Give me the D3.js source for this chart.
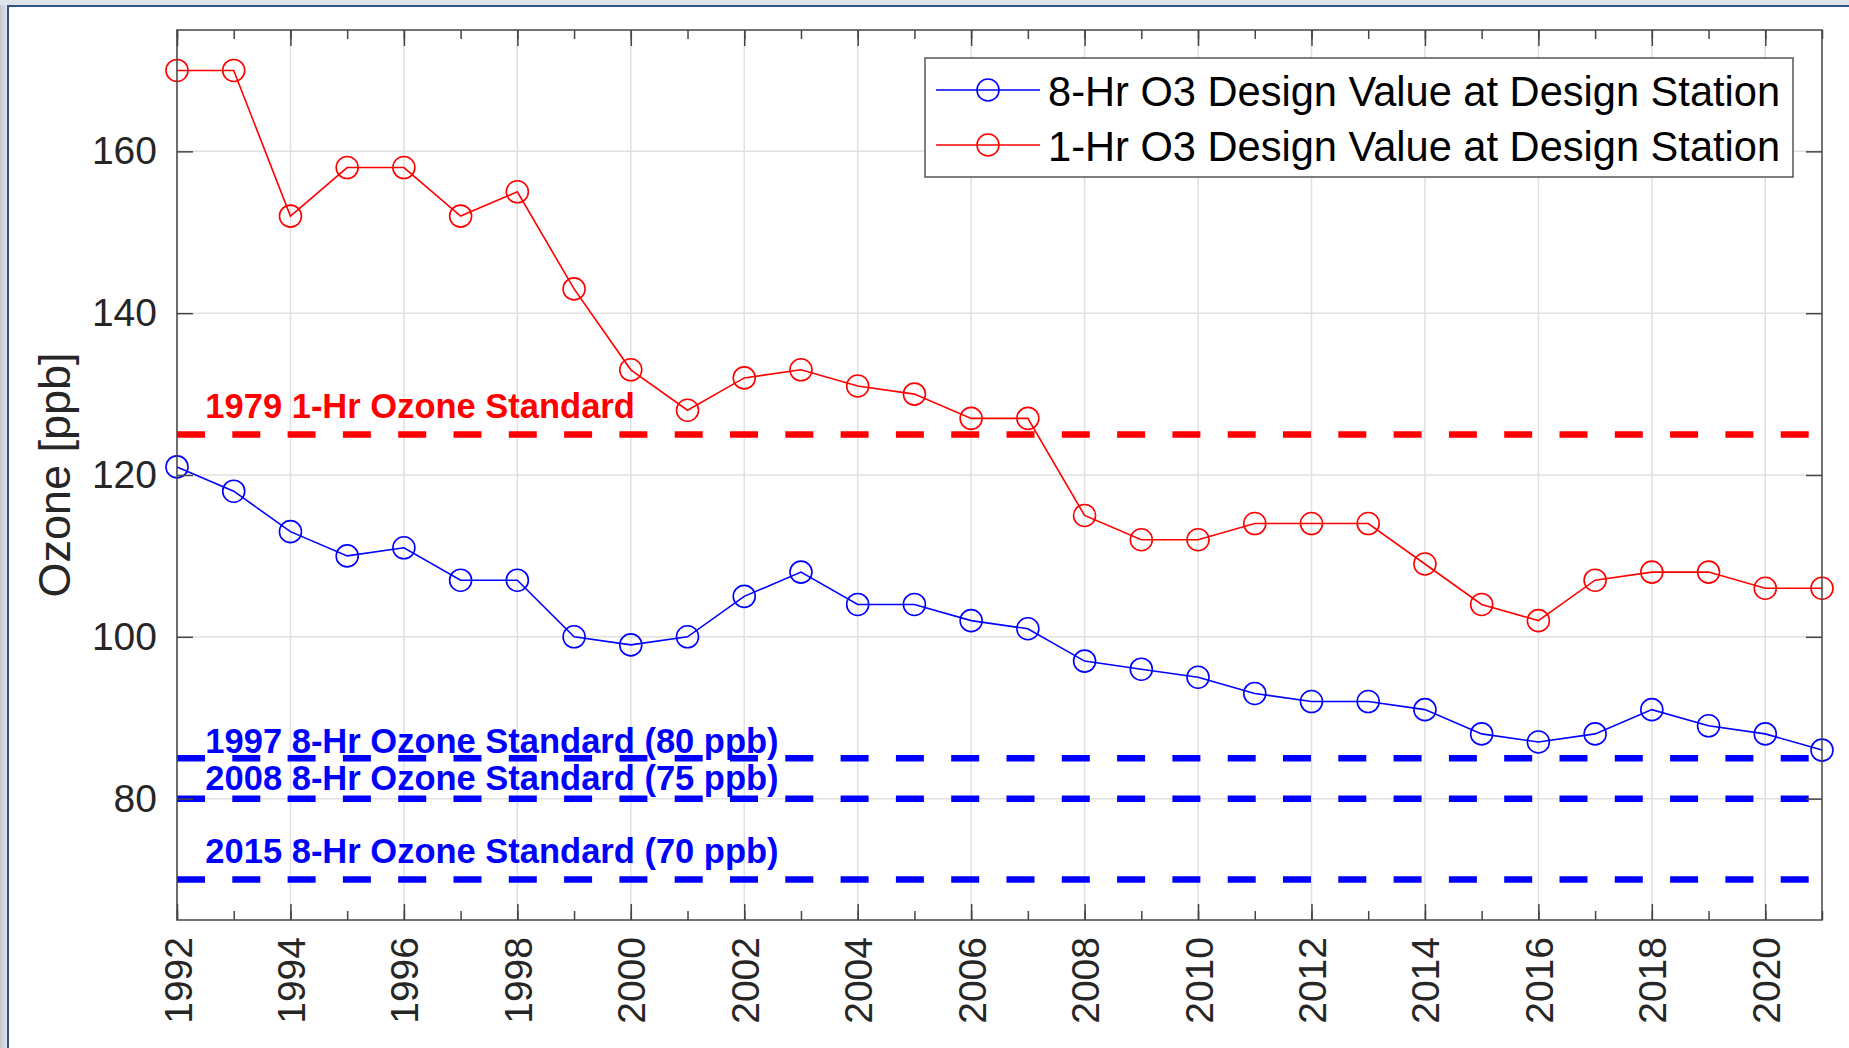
<!DOCTYPE html>
<html>
<head>
<meta charset="utf-8">
<script src="https://cdn.jsdelivr.net/npm/d3@7"></script>
<style>
body { margin: 0; background: #fff; overflow: hidden; }
svg { display: block; font-family: Arial, "Liberation Sans", sans-serif; }
</style>
</head>
<body>
<script>
// design values (ppb)
var years = [1992, 1993, 1994, 1995, 1996, 1997, 1998, 1999, 2000, 2001,
             2002, 2003, 2004, 2005, 2006, 2007, 2008, 2009, 2010, 2011,
             2012, 2013, 2014, 2015, 2016, 2017, 2018, 2019, 2020, 2021];
var eightHr = [121, 118, 113, 110, 111, 107, 107, 100, 99, 100,
               105, 108, 104, 104, 102, 101, 97, 96, 95, 93,
               92, 92, 91, 88, 87, 88, 91, 89, 88, 86];
var oneHr = [170, 170, 152, 158, 158, 152, 155, 143, 133, 128,
             132, 133, 131, 130, 127, 127, 115, 112, 112, 114,
             114, 114, 109, 104, 102, 107, 108, 108, 106, 106];

var xTicks = [1992, 1994, 1996, 1998, 2000, 2002, 2004, 2006, 2008, 2010,
              2012, 2014, 2016, 2018, 2020];
var yTicks = [80, 100, 120, 140, 160];

// standard lines and their annotations
var stdValues = [125, 85, 80, 70];
var stdColors = ["#ff0000", "#0000ff", "#0000ff", "#0000ff"];
var stdLabels = ["1979 1-Hr Ozone Standard",
                 "1997 8-Hr Ozone Standard (80 ppb)",
                 "2008 8-Hr Ozone Standard (75 ppb)",
                 "2015 8-Hr Ozone Standard (70 ppb)"];
var stdLabelAt = [127, 85.7, 81.1, 72];   // text anchor (ppb)
var stdLabelYear = 1992.5;

var seriesNames = ["8-Hr O3 Design Value at Design Station",
                   "1-Hr O3 Design Value at Design Station"];
var seriesColors = ["#0000ff", "#ff0000"];

var W = 1849, H = 1048;
var plot = {left: 177, right: 1822, top: 30, bottom: 920};

var svg = d3.select("body").append("svg")
    .attr("width", W)
    .attr("height", H);

// window frame of the screenshot
var grad = svg.append("defs").append("linearGradient")
    .attr("id", "side").attr("x1", 0).attr("x2", 1);
grad.append("stop").attr("offset", 0).attr("stop-color", "#c3c8cf");
grad.append("stop").attr("offset", 1).attr("stop-color", "#e4e7eb");
svg.append("rect").attr("x", 0).attr("y", 0).attr("width", 8).attr("height", H).attr("fill", "url(#side)");
svg.append("rect").attr("x", 0).attr("y", 0).attr("width", W).attr("height", 5).attr("fill", "#dfe4ea");
svg.append("rect").attr("x", 7).attr("y", 5).attr("width", W - 7).attr("height", 2).attr("fill", "#2c5783");
svg.append("rect").attr("x", 7).attr("y", 5).attr("width", 2).attr("height", H).attr("fill", "#2c5783");

var x = d3.scaleLinear().domain([1992, 2021]).range([plot.left, plot.right]);
var y = d3.scaleLinear().domain([65, 175]).range([plot.bottom, plot.top]);

// grid
var grid = svg.append("g").attr("stroke", "#e0e0e0").attr("stroke-width", 1.5);
grid.selectAll(".gx").data(xTicks).enter().append("line")
    .attr("x1", d => x(d)).attr("x2", d => x(d))
    .attr("y1", plot.top).attr("y2", plot.bottom);
grid.selectAll(".gy").data(yTicks).enter().append("line")
    .attr("x1", plot.left).attr("x2", plot.right)
    .attr("y1", d => y(d)).attr("y2", d => y(d));

// standards
svg.append("g").selectAll("line").data(stdValues).enter().append("line")
    .attr("x1", plot.left).attr("x2", plot.right)
    .attr("y1", d => y(d)).attr("y2", d => y(d))
    .attr("stroke", (d, i) => stdColors[i])
    .attr("stroke-width", 6.5)
    .attr("stroke-dasharray", "28,27.3");

svg.append("g").selectAll("text").data(stdLabels).enter().append("text")
    .attr("x", x(stdLabelYear))
    .attr("y", (d, i) => y(stdLabelAt[i]))
    .attr("fill", (d, i) => stdColors[i])
    .attr("font-size", 34.5)
    .attr("font-weight", "bold")
    .text(d => d);

// series
var line = d3.line().x(d => x(d[0])).y(d => y(d[1]));
[eightHr, oneHr].forEach(function (vals, k) {
    var pts = years.map((yr, i) => [yr, vals[i]]);
    var g = svg.append("g");
    g.append("path").datum(pts)
        .attr("d", line)
        .attr("fill", "none")
        .attr("stroke", seriesColors[k])
        .attr("stroke-width", 1.6);
    g.selectAll("circle").data(pts).enter().append("circle")
        .attr("cx", d => x(d[0]))
        .attr("cy", d => y(d[1]))
        .attr("r", 11)
        .attr("fill", "none")
        .attr("stroke", seriesColors[k])
        .attr("stroke-width", 1.6);
});

// axes (ticks point inward, box on)
var axisColor = "#454545";
function styleAxis(g) {
    g.select(".domain").remove();
    g.attr("color", axisColor)
        .attr("font-family", null)
        .attr("font-size", 39);
    g.selectAll(".tick line").attr("stroke-width", 1.5);
    g.selectAll(".tick text").attr("fill", "#262626");
}

svg.append("g").attr("transform", "translate(0," + plot.bottom + ")")
    .call(d3.axisBottom(x).tickValues(years).tickSize(-9).tickFormat(""))
    .call(styleAxis);
svg.append("g").attr("transform", "translate(0," + plot.top + ")")
    .call(d3.axisTop(x).tickValues(years).tickSize(-9).tickFormat(""))
    .call(styleAxis);
var xAxis = svg.append("g").attr("transform", "translate(0," + plot.bottom + ")")
    .call(d3.axisBottom(x).tickValues(xTicks).tickSize(-16).tickFormat(d3.format("d")))
    .call(styleAxis);
xAxis.selectAll(".tick text")
    .attr("transform", "rotate(-90)")
    .attr("x", -17)
    .attr("y", 0)
    .attr("dy", "0.36em")
    .attr("text-anchor", "end");
svg.append("g").attr("transform", "translate(0," + plot.top + ")")
    .call(d3.axisTop(x).tickValues(xTicks).tickSize(-16).tickFormat(""))
    .call(styleAxis);
svg.append("g").attr("transform", "translate(" + plot.left + ",0)")
    .call(d3.axisLeft(y).tickValues(yTicks).tickSize(-16).tickPadding(20))
    .call(styleAxis);
svg.append("g").attr("transform", "translate(" + plot.right + ",0)")
    .call(d3.axisRight(y).tickValues(yTicks).tickSize(-16).tickFormat(""))
    .call(styleAxis);

svg.append("rect")
    .attr("x", plot.left).attr("y", plot.top)
    .attr("width", plot.right - plot.left)
    .attr("height", plot.bottom - plot.top)
    .attr("fill", "none")
    .attr("stroke", axisColor)
    .attr("stroke-width", 1.5);

svg.append("text")
    .attr("transform", "translate(70," + ((plot.top + plot.bottom) / 2) + ") rotate(-90)")
    .attr("text-anchor", "middle")
    .attr("font-size", 45)
    .attr("fill", "#262626")
    .text("Ozone [ppb]");

// legend
var lg = svg.append("g").attr("transform", "translate(925,58)");
lg.append("rect")
    .attr("width", 868).attr("height", 119)
    .attr("fill", "#fff")
    .attr("stroke", "#555")
    .attr("stroke-width", 1.5);
seriesNames.forEach(function (name, i) {
    var cy = 32 + i * 55;
    lg.append("line")
        .attr("x1", 11).attr("x2", 115)
        .attr("y1", cy).attr("y2", cy)
        .attr("stroke", seriesColors[i]).attr("stroke-width", 1.6);
    lg.append("circle")
        .attr("cx", 63).attr("cy", cy).attr("r", 11)
        .attr("fill", "none")
        .attr("stroke", seriesColors[i]).attr("stroke-width", 1.6);
    lg.append("text")
        .attr("x", 123).attr("y", cy + 16)
        .attr("font-size", 41.6)
        .attr("fill", "#000")
        .text(name);
});
</script>
</body>
</html>
